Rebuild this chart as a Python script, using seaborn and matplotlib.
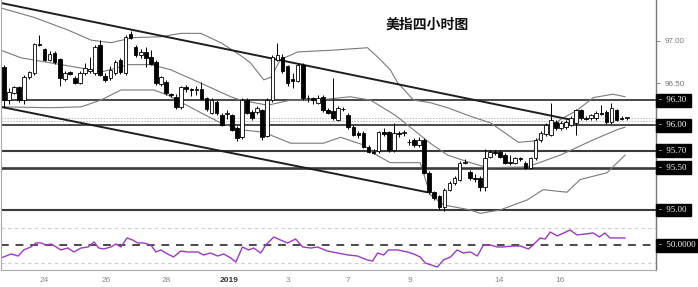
import numpy as np
import matplotlib
matplotlib.use("Agg")
import matplotlib.pyplot as plt
import seaborn as sns

sns.set_style("white")
plt.rcParams['font.family'] = ['Liberation Sans', 'DejaVu Sans']

# ---------------- data (4-hour candles, US dollar index) ----------------
opens = [96.69, 96.30, 96.39, 96.45, 96.30, 96.57, 96.62, 96.97, 96.90, 96.78,
         96.86, 96.79, 96.55, 96.63, 96.56, 96.50, 96.62, 96.64, 96.62, 96.95,
         96.58, 96.56, 96.62, 96.78, 96.62, 97.08, 96.93, 96.83, 96.87, 96.81,
         96.75, 96.49, 96.52, 96.37, 96.34, 96.22, 96.45, 96.43, 96.42, 96.43,
         96.32, 96.15, 96.28, 96.12, 96.13, 96.12, 95.97, 95.86, 96.30, 96.16,
         96.16, 96.18, 95.88, 96.30, 96.78, 96.81, 96.70, 96.55, 96.53, 96.72,
         96.33, 96.32, 96.27, 96.34, 96.18, 96.17, 96.07, 96.20, 96.12, 95.98,
         95.91, 95.91, 95.75, 95.69, 95.70, 95.92, 95.92, 95.71, 95.91, 95.91,
         95.81, 95.83, 95.77, 95.83, 95.44, 95.21, 95.16, 95.03, 95.24, 95.32,
         95.36, 95.56, 95.45, 95.38, 95.38, 95.27, 95.63, 95.69, 95.69, 95.65,
         95.57, 95.56, 95.61, 95.56, 95.50, 95.61, 95.83, 95.90,
         95.89, 96.04, 95.97, 95.98, 96.01, 96.03, 96.18, 96.09, 96.09, 96.09,
         96.15, 96.16, 96.04, 96.18, 96.09, 96.09]
highs = [96.72, 96.44, 96.47, 96.47, 96.60, 96.65, 96.98, 97.07, 96.92, 96.88,
         96.88, 96.80, 96.64, 96.64, 96.58, 96.64, 96.74, 96.81, 96.95, 97.01,
         96.62, 96.70, 96.77, 96.80, 97.07, 97.12, 96.95, 96.90, 96.93, 96.89,
         96.77, 96.59, 96.54, 96.38, 96.37, 96.47, 96.48, 96.44, 96.47, 96.52,
         96.34, 96.32, 96.30, 96.15, 96.18, 96.14, 95.99, 96.32, 96.33, 96.18,
         96.23, 96.20, 96.32, 96.83, 96.98, 96.84, 96.72, 96.62, 96.74, 96.74,
         96.36, 96.34, 96.36, 96.36, 96.21, 96.56, 96.23, 96.22, 96.15, 96.00,
         95.93, 95.93, 95.77, 95.72, 95.94, 95.97, 95.94, 96.03, 95.94, 95.95,
         95.84, 95.85, 95.86, 95.85, 95.46, 95.23, 95.18, 95.26, 95.34, 95.40,
         95.58, 95.60, 95.47, 95.42, 95.40, 95.72, 95.71, 95.71, 95.71, 95.67,
         95.65, 95.63, 95.63, 95.58, 95.63, 95.85, 95.93, 96.03,
         96.27, 96.06, 96.05, 96.06, 96.11, 96.20, 96.20, 96.11, 96.14, 96.17,
         96.24, 96.18, 96.27, 96.20, 96.11, 96.10]
lows = [96.21, 96.26, 96.37, 96.28, 96.25, 96.55, 96.60, 96.94, 96.76, 96.76,
        96.73, 96.47, 96.53, 96.60, 96.49, 96.49, 96.60, 96.62, 96.60, 96.58,
        96.52, 96.54, 96.60, 96.61, 96.60, 97.02, 96.81, 96.80, 96.69, 96.71,
        96.48, 96.47, 96.36, 96.34, 96.20, 96.20, 96.40, 96.35, 96.36, 96.30,
        96.17, 96.13, 96.12, 95.99, 96.08, 95.93, 95.82, 95.84, 96.13, 96.07,
        96.14, 95.83, 95.86, 96.28, 96.76, 96.62, 96.47, 96.44, 96.51, 96.30,
        96.28, 96.26, 96.25, 96.16, 96.13, 96.07, 96.05, 96.17, 95.96, 95.87,
        95.85, 95.73, 95.67, 95.66, 95.68, 95.87, 95.69, 95.69, 95.86, 95.88,
        95.77, 95.75, 95.75, 95.42, 95.19, 95.12, 95.00, 94.99, 95.22, 95.30,
        95.34, 95.54, 95.36, 95.33, 95.22, 95.22, 95.61, 95.65, 95.61, 95.54,
        95.53, 95.54, 95.58, 95.48, 95.48, 95.59, 95.81, 95.87,
        95.87, 95.95, 95.95, 95.96, 95.99, 95.89, 96.07, 96.06, 96.07, 96.07,
        96.12, 96.02, 96.02, 96.05, 96.07, 96.07]
closes = [96.30, 96.40, 96.45, 96.30, 96.57, 96.63, 96.96, 96.95, 96.78, 96.85,
          96.75, 96.56, 96.62, 96.61, 96.50, 96.62, 96.68, 96.67, 96.93, 96.60,
          96.54, 96.66, 96.75, 96.63, 97.05, 97.04, 96.83, 96.87, 96.80, 96.73,
          96.50, 96.57, 96.38, 96.36, 96.22, 96.45, 96.43, 96.42, 96.43, 96.31,
          96.20, 96.30, 96.15, 96.01, 96.15, 95.95, 95.85, 96.30, 96.15, 96.09,
          96.21, 95.86, 96.30, 96.81, 96.83, 96.64, 96.50, 96.53, 96.72, 96.33,
          96.32, 96.30, 96.33, 96.18, 96.15, 96.09, 96.21, 96.19, 95.98, 95.89,
          95.89, 95.75, 95.69, 95.68, 95.92, 95.90, 95.71, 95.91, 95.90, 95.92,
          95.80, 95.77, 95.83, 95.44, 95.21, 95.14, 95.03, 95.24, 95.32, 95.38,
          95.56, 95.57, 95.38, 95.37, 95.27, 95.62, 95.69, 95.68, 95.63, 95.56,
          95.56, 95.61, 95.60, 95.50, 95.61, 95.83, 95.91, 96.01,
          96.07, 95.97, 96.03, 96.04, 96.09, 96.18, 96.09, 96.08, 96.12, 96.15,
          96.14, 96.04, 96.21, 96.07, 96.08, 96.09]

# Bollinger bands (candle index, price)
bb_up_idx = [-0.6, 5.9, 12.6, 17.2, 21.1, 25.6, 31.0, 34.9, 38.9, 42.8, 46.7, 48.7,
             51.3, 52.7, 54.6, 58.0, 64.5, 71.8, 73.8, 76.3, 77.7, 80.9, 84.2, 87.6,
             92.1, 96.1, 99.0, 101.6, 105.3, 106.9, 109.9, 113.2, 116.4, 120.3, 122.7]
bb_up_val = [97.39, 97.28, 97.13, 97.01, 96.98, 97.04, 97.05, 97.09, 97.09, 96.98,
             96.83, 96.74, 96.54, 96.57, 96.78, 96.87, 96.89, 96.92, 96.81, 96.66,
             96.51, 96.30, 96.27, 96.21, 96.11, 96.03, 95.91, 95.80, 95.82, 95.92,
             96.07, 96.18, 96.33, 96.37, 96.34]
bb_mid_idx = [-0.6, 3.4, 9.3, 15.2, 19.1, 24.5, 29.0, 32.9, 38.9, 44.8, 46.7, 52.1,
              56.6, 61.9, 68.4, 72.4, 77.3, 81.7, 84.2, 87.6, 92.1, 95.5, 103.4,
              109.9, 116.4, 121.1, 122.7]
bb_mid_val = [96.89, 96.80, 96.74, 96.68, 96.63, 96.72, 96.72, 96.66, 96.50, 96.34,
              96.30, 96.24, 96.30, 96.30, 96.34, 96.30, 96.12, 95.91, 95.79, 95.65,
              95.56, 95.50, 95.51, 95.65, 95.83, 95.95, 95.98]
bb_low_idx = [-0.6, 9.3, 15.2, 19.1, 23.1, 29.6, 32.3, 38.9, 42.8, 46.7, 51.3, 56.6,
              63.1, 66.5, 71.0, 73.0, 76.3, 82.2, 84.2, 86.8, 92.1, 94.1, 98.0, 103.4,
              106.5, 111.2, 113.8, 119.1, 122.7]
bb_low_val = [96.22, 96.21, 96.22, 96.30, 96.42, 96.42, 96.36, 96.15, 96.03, 95.95,
              95.92, 95.79, 95.79, 95.86, 95.77, 95.67, 95.56, 95.56, 95.18, 95.06,
              95.00, 94.96, 95.00, 95.12, 95.24, 95.21, 95.36, 95.44, 95.65]

# Down-sloping channel (start / end points)
chan_up_idx = [-0.6, 111.8]
chan_up_val = [97.45, 96.07]
chan_lo_idx = [-0.6, 83.6]
chan_lo_val = [96.22, 95.21]

# Horizontal levels
levels = [96.30, 96.00, 95.70, 95.50, 95.00]
level_labels = ["96.30", "96.00", "95.70", "95.50", "95.00"]
price_lines = [96.09, 96.05]

# RSI
rsi_idx = [-0.6, 1.4, 2.8, 3.9, 5.3, 6.3, 7.3, 8.3, 9.3, 10.3, 11.2, 12.6, 13.8, 15.2,
           16.6, 17.8, 18.7, 19.7, 21.1, 22.1, 23.1, 24.3, 25.4, 26.4, 27.6, 29.0,
           30.0, 31.0, 32.3, 33.5, 34.9, 36.3, 38.3, 39.4, 40.8, 42.2, 43.4, 44.8,
           45.8, 47.1, 48.3, 49.3, 50.7, 51.7, 53.3, 54.6, 56.0, 57.6, 59.0, 60.6,
           61.9, 63.9, 65.9, 68.0, 69.8, 71.8, 72.8, 73.8, 75.0, 75.9, 77.7, 79.7,
           80.9, 82.2, 83.2, 85.6, 86.8, 88.2, 89.5, 90.7, 92.1, 93.5, 94.7, 96.1,
           97.4, 98.6, 100.4, 102.0, 103.6, 104.5, 105.9, 106.9, 107.9, 109.3,
           111.8, 113.2, 116.4, 117.6, 118.7, 119.7, 122.7]
rsi_val = [35.7, 40.3, 38.0, 44.9, 48.3, 52.9, 52.9, 50.6, 51.7, 48.3, 44.9, 47.1,
           42.6, 47.1, 48.3, 54.0, 47.1, 46.0, 48.3, 51.7, 48.3, 58.6, 56.3, 52.9,
           52.9, 50.6, 42.6, 44.9, 40.3, 36.9, 43.7, 42.6, 42.6, 39.1, 41.4, 38.0,
           40.3, 35.7, 31.1, 48.3, 44.9, 47.1, 41.4, 50.6, 59.7, 56.3, 52.9, 57.4,
           48.3, 47.1, 48.3, 43.7, 41.4, 39.1, 38.0, 33.4, 32.3, 41.4, 39.1, 44.9,
           44.9, 42.6, 40.3, 36.9, 30.0, 25.4, 33.4, 36.9, 44.9, 41.4, 42.6, 38.0,
           50.6, 50.6, 48.3, 48.3, 49.4, 49.4, 46.0, 50.6, 58.6, 57.4, 65.4, 60.9,
           67.7, 62.0, 64.3, 59.7, 64.3, 58.6, 58.6]

xtick_pos = [7.9, 20.1, 32.1, 44.4, 56.0, 67.9, 80.1, 97.8, 109.9]
xtick_lab = ["24", "26", "28", "2019", "3", "7", "9", "14", "16"]
title = "美指四小时图"

# ---------------- figure ----------------
W, H = 698, 287
fig = plt.figure(figsize=(W / 100, H / 100), dpi=100)
fig.patch.set_facecolor("white")
ax = fig.add_axes([0.0015, 62 / H, 655 / W, 225 / H])
ax2 = fig.add_axes([0.0015, 17 / H, 655 / W, 45 / H], sharex=ax)

o = np.array(opens); h = np.array(highs); l = np.array(lows); c = np.array(closes)
idx = np.arange(len(o))
up = c >= o

# levels (under candles)
lw_levels = [1.3, 1.3, 1.5, 1.9, 1.5]
for lv, lw in zip(levels, lw_levels):
    ax.axhline(lv, color="#3a3a3a", lw=lw, zorder=1)
for pl in price_lines:
    ax.axhline(pl, color="#bbbbbb", lw=0.7, ls=(0, (1.5, 1.5)), zorder=1)

# Bollinger bands
for bx, by in [(bb_up_idx, bb_up_val), (bb_mid_idx, bb_mid_val), (bb_low_idx, bb_low_val)]:
    sns.lineplot(x=bx, y=by, ax=ax, color="#7a7a7a", lw=0.8, zorder=2, estimator=None)

# channel
ax.plot(chan_up_idx, chan_up_val, color="#1e1e1e", lw=1.4, zorder=2)
ax.plot(chan_lo_idx, chan_lo_val, color="#1e1e1e", lw=1.4, zorder=2)

# candles
ax.vlines(idx, l, h, color="black", lw=0.7, zorder=3)
body_bottom = np.minimum(o, c)
body_h = np.maximum(np.abs(c - o), 0.008)
ax.bar(idx[up], body_h[up], bottom=body_bottom[up], width=0.72, color="white",
       edgecolor="black", lw=0.6, zorder=4)
ax.bar(idx[~up], body_h[~up], bottom=body_bottom[~up], width=0.72, color="black",
       edgecolor="black", lw=0.6, zorder=4)

ax.set_xlim(-0.59, 128.8)
ax.set_ylim(94.822, 97.485)

# axis styling
for a in (ax, ax2):
    for s in a.spines.values():
        s.set_visible(False)
    a.spines["right"].set_visible(True)
    a.spines["right"].set_color("#777777")
    a.spines["right"].set_linewidth(1.0)
    a.spines["left"].set_visible(True)
    a.spines["left"].set_color("#aaaaaa")
    a.spines["left"].set_linewidth(0.8)
ax.spines["bottom"].set_visible(True)
ax.spines["bottom"].set_color("#cfcfcf")
ax.spines["bottom"].set_linewidth(0.8)
ax2.spines["bottom"].set_visible(True)
ax2.spines["bottom"].set_color("#aaaaaa")
ax2.spines["bottom"].set_linewidth(0.8)

ax.yaxis.tick_right()
ax.set_yticks([96.5, 97.0])
ax.set_yticklabels(["96.50", "97.00"])
ax.tick_params(axis="y", length=3, width=0.7, color="#888888", labelcolor="#777777",
               labelsize=5.8, pad=3)
ax.tick_params(axis="x", bottom=False, labelbottom=False)
ax.text(1.0, 97.5, "-  97.50", transform=ax.get_yaxis_transform(), ha="left",
        va="center", fontsize=5.8, color="#777777")

box_kw = dict(boxstyle="square,pad=0.28", fc="black", ec="black")
for lv, lab in zip(levels, level_labels):
    ax.text(1.004, lv, "-  " + lab + " ", transform=ax.get_yaxis_transform(), ha="left",
            va="center", fontsize=6.3, color="white", family="Liberation Serif",
            bbox=box_kw, clip_on=False, zorder=10)

ax.set_xlabel(""); ax.set_ylabel("")

# RSI panel
ax2.axhline(70, color="#cccccc", lw=0.8, ls=(0, (3, 3)))
ax2.axhline(30, color="#cccccc", lw=0.8, ls=(0, (3, 3)))
ax2.axhline(50, color="#4a4a4a", lw=1.4, ls=(0, (4, 3.5)))
sns.lineplot(x=rsi_idx, y=rsi_val, ax=ax2, color="#9a3cbf", lw=1.0, estimator=None)
ax2.set_ylim(22.0, 73.4)
ax2.set_yticks([])
ax2.text(1.004, 50, "-  50.0000 ", transform=ax2.get_yaxis_transform(), ha="left",
         va="center", fontsize=6.3, color="white", family="Liberation Serif",
         bbox=box_kw, clip_on=False, zorder=10)
ax2.set_xticks(xtick_pos)
ax2.set_xticklabels(xtick_lab)
ax2.tick_params(axis="x", length=0, pad=5, labelsize=6, labelcolor="#8a8a8a")
for t in ax2.get_xticklabels():
    if t.get_text() == "2019":
        t.set_fontweight("bold")
        t.set_color("#333333")
ax2.set_xlabel(""); ax2.set_ylabel("")

fig.text(427 / W, 1 - 25 / H, title, ha="center", va="center", fontsize=10,
         fontweight="bold", family=["Noto Sans CJK SC", "DejaVu Sans"], color="#111111")

fig.savefig("out.png", dpi=100, facecolor="white")
